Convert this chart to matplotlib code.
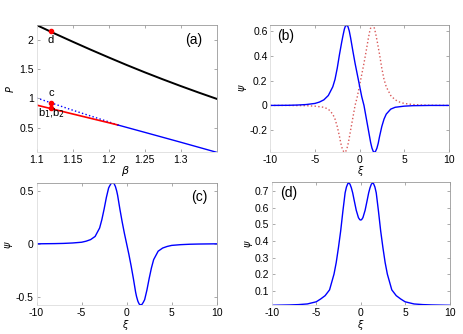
import matplotlib
matplotlib.use("Agg")
import matplotlib.pyplot as plt
import numpy as np

plt.rcParams['font.family'] = ['Liberation Sans', 'DejaVu Sans']
plt.rcParams['axes.unicode_minus'] = False

# ---- panel (a): P versus beta ----
beta_black = [1.1, 1.125, 1.15, 1.175, 1.2, 1.225, 1.25, 1.275, 1.3, 1.325, 1.35]
P_black = [2.26, 2.115, 1.975, 1.838, 1.705, 1.575, 1.45, 1.33, 1.214, 1.102, 0.994]
beta_dot = [1.1, 1.15, 1.2, 1.213]
P_dot = [1.01, 0.80, 0.60, 0.545]
beta_red = [1.1, 1.15, 1.2, 1.213]
P_red = [0.887, 0.735, 0.585, 0.545]
beta_blue = [1.213, 1.25, 1.3, 1.35]
P_blue = [0.545, 0.42, 0.25, 0.077]
pt_beta = [1.12, 1.12, 1.12]
pt_P = [2.15, 0.926, 0.83]

# ---- panel (b): asymmetric mode (blue) and its mirror image (red) ----
xi_b = [-10, -8, -7, -6, -5, -4.5, -4, -3.5, -3, -2.75, -2.5, -2.25, -2,
        -1.85, -1.7, -1.6, -1.45, -1.3, -1.15, -1, -0.75, -0.5, -0.25, 0,
        0.25, 0.5, 0.75, 1, 1.25, 1.4, 1.55, 1.65, 1.8, 1.95, 2.1, 2.25,
        2.5, 2.75, 3, 3.5, 4, 5, 6, 8, 10]
psi_b_blue = [0, 0.001, 0.003, 0.007, 0.016, 0.027, 0.045, 0.08, 0.15, 0.21,
              0.3, 0.41, 0.51, 0.565, 0.615, 0.636, 0.648, 0.636, 0.6, 0.545,
              0.44, 0.34, 0.25, 0.16, 0.07, 0.0, -0.1, -0.2, -0.3, -0.345,
              -0.372, -0.378, -0.37, -0.345, -0.305, -0.25, -0.17, -0.11,
              -0.07, -0.03, -0.015, -0.006, -0.002, 0, 0]
xi_b_red = [-10, -8, -6, -5, -4, -3.5, -3, -2.75, -2.5, -2.25, -2.1, -1.95,
            -1.8, -1.65, -1.55, -1.4, -1.25, -1, -0.75, -0.5, -0.25, 0, 0.25,
            0.5, 0.75, 1, 1.15, 1.3, 1.45, 1.6, 1.7, 1.85, 2, 2.25, 2.5, 2.75,
            3, 3.5, 4, 4.5, 5, 6, 7, 8, 10]
psi_b_red = [0, 0, -0.002, -0.006, -0.015, -0.03, -0.07, -0.11, -0.17, -0.25,
             -0.305, -0.345, -0.37, -0.378, -0.372, -0.345, -0.3, -0.2, -0.1,
             0.0, 0.07, 0.16, 0.25, 0.34, 0.44, 0.545, 0.6, 0.636, 0.648,
             0.636, 0.615, 0.565, 0.51, 0.41, 0.3, 0.21, 0.15, 0.08, 0.045,
             0.027, 0.016, 0.007, 0.003, 0.001, 0]

# ---- panel (c): antisymmetric mode ----
xi_c = [-10, -8, -7, -6, -5, -4.5, -4, -3.5, -3, -2.75, -2.5, -2.25, -2,
        -1.85, -1.7, -1.55, -1.4, -1.25, -1.1, -1, -0.75, -0.5, -0.25, 0,
        0.25, 0.5, 0.75, 1, 1.1, 1.25, 1.4, 1.55, 1.7, 1.85, 2, 2.25, 2.5,
        2.75, 3, 3.5, 4, 4.5, 5, 6, 7, 8, 10]
psi_c = [0, 0.002, 0.004, 0.008, 0.015, 0.025, 0.04, 0.07, 0.15, 0.23, 0.33,
         0.44, 0.53, 0.555, 0.575, 0.58, 0.572, 0.545, 0.5, 0.46, 0.33, 0.21,
         0.1, 0, -0.1, -0.21, -0.33, -0.46, -0.5, -0.545, -0.572, -0.58,
         -0.575, -0.555, -0.53, -0.44, -0.33, -0.23, -0.15, -0.07, -0.04,
         -0.025, -0.015, -0.008, -0.004, -0.002, 0]

# ---- panel (d): symmetric double-hump mode ----
xi_d = [-10, -8, -7, -6, -5, -4.5, -4, -3.5, -3, -2.75, -2.5, -2.25, -2,
        -1.75, -1.6, -1.45, -1.35, -1.2, -1.05, -0.9, -0.75, -0.5, -0.25,
        -0.1, 0, 0.1, 0.25, 0.5, 0.75, 0.9, 1.05, 1.2, 1.35, 1.45, 1.6, 1.75,
        2, 2.25, 2.5, 2.75, 3, 3.5, 4, 4.5, 5, 6, 7, 8, 10]
psi_d = [0.012, 0.014, 0.016, 0.02, 0.033, 0.05, 0.07, 0.105, 0.2, 0.27, 0.36,
         0.46, 0.58, 0.69, 0.725, 0.745, 0.75, 0.742, 0.72, 0.69, 0.65, 0.585,
         0.54, 0.528, 0.526, 0.528, 0.54, 0.585, 0.65, 0.69, 0.72, 0.742,
         0.75, 0.745, 0.725, 0.69, 0.58, 0.46, 0.36, 0.27, 0.2, 0.105, 0.07,
         0.05, 0.033, 0.02, 0.016, 0.014, 0.012]

fig = plt.figure(figsize=(4.63, 3.34), dpi=100)
axa = fig.add_axes([0.079, 0.544, 0.389, 0.381])
axb = fig.add_axes([0.584, 0.544, 0.385, 0.381])
axc = fig.add_axes([0.079, 0.087, 0.389, 0.366])
axd = fig.add_axes([0.587, 0.086, 0.384, 0.369])


def style(ax):
    for side in ['left', 'bottom']:
        ax.spines[side].set_color('#dddddd')
    for side in ['top', 'right']:
        ax.spines[side].set_color('#999999')
    for s in ax.spines.values():
        s.set_linewidth(0.6)
    ax.tick_params(direction='in', length=2.5, width=0.5, color='#888888',
                   labelsize=7.5, top=True, right=True, pad=2)


# (a)
axa.plot(beta_black, P_black, color='black', lw=1.4)
axa.plot(beta_dot, P_dot, color='blue', ls=':', lw=1.0)
axa.plot(beta_red, P_red, color='red', lw=1.2)
axa.plot(beta_blue, P_blue, color='blue', lw=1.0)
axa.plot(pt_beta, pt_P, 'o', color='red', ms=3, mec='red')
axa.text(1.12, 2.0, 'd', fontsize=8, ha='center', va='center')
axa.text(1.12, 1.09, 'c', fontsize=8, ha='center', va='center')
axa.text(1.121, 0.74, 'b$_1$,b$_2$', fontsize=8, ha='center', va='center')
axa.set_xlim(1.1, 1.35)
axa.set_ylim(0.077, 2.26)
axa.set_xticks([1.1, 1.15, 1.2, 1.25, 1.3])
axa.set_xticklabels(['1.1', '1.15', '1.2', '1.25', '1.3'])
axa.set_yticks([0.5, 1, 1.5, 2])
axa.set_yticklabels(['0.5', '1', '1.5', '2'])
axa.text(1.318, 2.0, '(a)', fontsize=10, ha='center', va='center')
style(axa)

# (b)
axb.plot(xi_b_red, psi_b_red, color=(0.85, 0.35, 0.35), ls=':', lw=1.0)
axb.plot(xi_b, psi_b_blue, color='blue', lw=1.0)
axb.set_xlim(-10, 10)
axb.set_ylim(-0.378, 0.648)
axb.set_xticks([-10, -5, 0, 5, 10])
axb.set_xticklabels(['-10', '-5', '0', '5', '10'])
axb.set_yticks([-0.2, 0, 0.2, 0.4, 0.6])
axb.set_yticklabels(['-0.2', '0', '0.2', '0.4', '0.6'])
axb.text(-8.3, 0.56, '(b)', fontsize=10, ha='center', va='center')
style(axb)

# (c)
axc.plot(xi_c, psi_c, color='blue', lw=1.0)
axc.set_xlim(-10, 10)
axc.set_ylim(-0.58, 0.58)
axc.set_xticks([-10, -5, 0, 5, 10])
axc.set_xticklabels(['-10', '-5', '0', '5', '10'])
axc.set_yticks([-0.5, 0, 0.5])
axc.set_yticklabels(['-0.5', '0', '0.5'])
axc.text(8.1, 0.44, '(c)', fontsize=10, ha='center', va='center')
style(axc)

# (d)
axd.plot(xi_d, psi_d, color='blue', lw=1.0)
axd.set_xlim(-10, 10)
axd.set_ylim(0.012, 0.755)
axd.set_xticks([-10, -5, 0, 5, 10])
axd.set_xticklabels(['-10', '-5', '0', '5', '10'])
axd.set_yticks([0.1, 0.2, 0.3, 0.4, 0.5, 0.6, 0.7])
axd.set_yticklabels(['0.1', '0.2', '0.3', '0.4', '0.5', '0.6', '0.7'])
axd.text(-8.1, 0.69, '(d)', fontsize=10, ha='center', va='center')
style(axd)

# axis labels placed like the original
fig.text(125 / 463, 1 - 171 / 334, r'$\beta$', fontsize=8, ha='center', va='center')
fig.text(361 / 463, 1 - 171 / 334, r'$\xi$', fontsize=7, ha='center', va='center')
fig.text(126 / 463, 1 - 325 / 334, r'$\xi$', fontsize=7, ha='center', va='center')
fig.text(361 / 463, 1 - 325 / 334, r'$\xi$', fontsize=7, ha='center', va='center')
fig.text(10 / 463, 1 - 89 / 334, r'$P$', fontsize=7, ha='center', va='center', rotation=90)
fig.text(243 / 463, 1 - 88 / 334, r'$\psi$', fontsize=7, ha='center', va='center', rotation=90)
fig.text(9 / 463, 1 - 245 / 334, r'$\psi$', fontsize=7, ha='center', va='center', rotation=90)
fig.text(249 / 463, 1 - 244 / 334, r'$\psi$', fontsize=7, ha='center', va='center', rotation=90)

fig.savefig('out.png', dpi=100)
